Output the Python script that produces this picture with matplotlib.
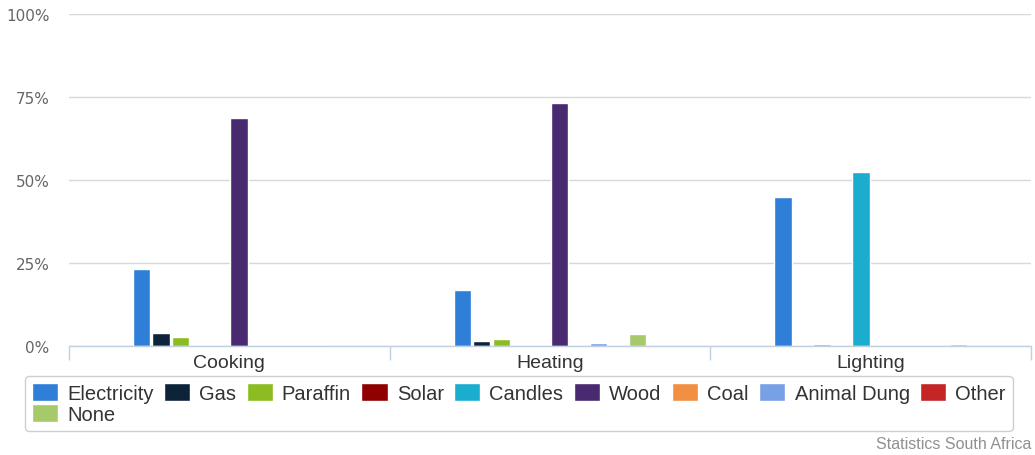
import numpy as np
import matplotlib.pyplot as plt

categories = ['Cooking', 'Heating', 'Lighting']
series = ['Electricity', 'Gas', 'Paraffin', 'Solar', 'Candles',
          'Wood', 'Coal', 'Animal Dung', 'Other', 'None']
colors = ['#2f7ed8', '#0d233a', '#8bbc21', '#910000', '#1aadce',
          '#492970', '#f28f43', '#77a1e5', '#c42525', '#a6c96a']

# percent of households per energy source
electricity = [23.2, 16.9, 44.8]
gas = [3.9, 1.6, 0.0]
paraffin = [2.8, 2.1, 0.7]
solar = [0.0, 0.0, 0.0]
candles = [0.0, 0.0, 52.5]
wood = [68.7, 73.2, 0.0]
coal = [0.0, 0.0, 0.0]
animal_dung = [0.0, 0.8, 0.0]
other = [0.0, 0.0, 0.0]
none = [0.0, 3.7, 0.7]
values = [electricity, gas, paraffin, solar, candles,
          wood, coal, animal_dung, other, none]

yticks = [0, 25, 50, 75, 100]
ytick_labels = ['0%', '25%', '50%', '75%', '100%']

fig = plt.figure(figsize=(10.35, 4.56), dpi=100)
ax = fig.add_axes([69 / 1035, 1 - 347 / 456, (1031 - 69) / 1035, (347 - 15) / 456])

x = np.arange(len(categories))
slot = 0.0608
handles = []
for i, (name, vals, c) in enumerate(zip(series, values, colors)):
    h = ax.bar(x + (i - 4.5) * slot, vals, width=0.054, color=c,
               edgecolor='white', linewidth=1, label=name, zorder=3)
    handles.append(h)

ax.set_xlim(-0.5, 2.5)
ax.set_ylim(0, 100)
ax.set_yticks(yticks)
ax.set_yticklabels(ytick_labels, fontsize=11, color='#666666', family='DejaVu Sans')
ax.tick_params(axis='y', length=0, pad=14)
ax.grid(axis='y', color='#d8d8d8', linewidth=1, zorder=0)

ax.set_xticks(x)
ax.set_xticklabels(categories, fontsize=14, color='#333333', family='Liberation Sans')
ax.tick_params(axis='x', length=0, pad=6)
ax.set_xticks(np.arange(-0.5, 3, 1), minor=True)
ax.tick_params(axis='x', which='minor', length=10, color='#c0d0e0', width=1)

for s in ['top', 'right', 'left']:
    ax.spines[s].set_visible(False)
ax.spines['bottom'].set_color('#c0d0e0')
ax.spines['bottom'].set_linewidth(1)
ax.spines['bottom'].set_zorder(4)

# matplotlib fills legend columns first, so reorder to get row-major layout
order = [0, 9, 1, 2, 3, 4, 5, 6, 7, 8]
leg = fig.legend([handles[k] for k in order], [series[k] for k in order],
                 loc='upper left', bbox_to_anchor=(25 / 1035, 1 - 377 / 456),
                 ncol=9, frameon=True, fancybox=True,
                 prop={'family': 'Liberation Sans', 'size': 14.5},
                 handlelength=1.3, handleheight=1.0, handletextpad=0.45,
                 columnspacing=0.52, labelspacing=0.08, borderpad=0.33,
                 borderaxespad=0)
leg.get_frame().set_edgecolor('#c4c4c4')
leg.get_frame().set_linewidth(1)
for t in leg.get_texts():
    t.set_color('#333333')

fig.text(1031 / 1035, 1 - 445 / 456, 'Statistics South Africa', ha='right', va='center',
         fontsize=11.5, color='#909090', family='Liberation Sans')

fig.savefig('out.png', dpi=100)
